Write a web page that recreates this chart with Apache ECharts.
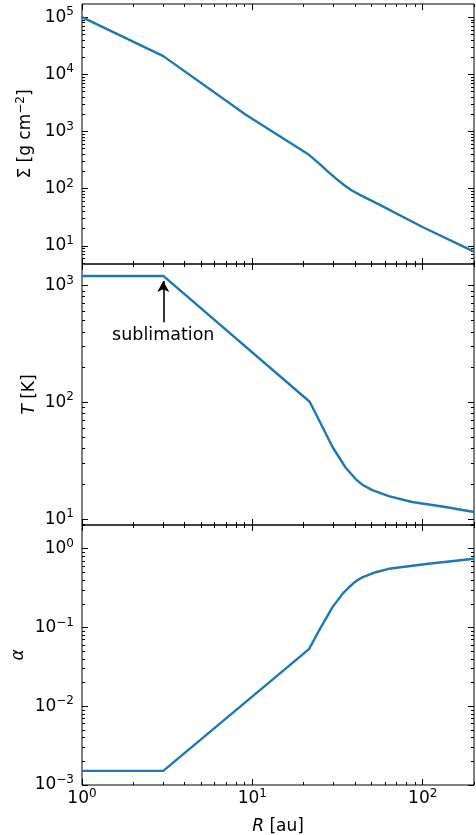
<!DOCTYPE html>
<html>
<head>
<meta charset="utf-8">
<script src="https://cdn.jsdelivr.net/npm/echarts@6/dist/echarts.min.js"></script>
<style>
	html, body { margin: 0; padding: 0; background: #fff; }
	#chart { width: 476px; height: 835px; }
</style>
</head>
<body>
<div id="chart"></div>
<script>
var rSigma = [1, 3, 9.2, 21.5, 24.6, 28.2, 30.9, 34.5, 38.6, 44.2, 55.3, 99, 200];
var sigma = [1.0e5, 2.08e4, 1950, 390, 277, 190, 151, 116, 92, 74, 53, 21.5, 7.9];

var rTemp = [1, 3, 21.7, 24.6, 29.5, 35.3, 40.4, 44.2, 50.6, 63.2, 86.6, 136, 200];
var temp = [1205, 1205, 101, 70.5, 41.6, 27.5, 22, 19.7, 17.7, 15.7, 14.0, 12.7, 11.5];

var rAlpha = [1, 3, 21.5, 24.6, 29.5, 33.8, 36.9, 40.4, 44.2, 52.9, 63.2, 108, 200];
var alpha = [1.51e-3, 1.51e-3, 0.053, 0.091, 0.18, 0.267, 0.324, 0.385, 0.434, 0.503, 0.556, 0.644, 0.745];

var xMajor = [1, 10, 100];
var sigmaMajor = [1e1, 1e2, 1e3, 1e4, 1e5];
var tempMajor = [1e1, 1e2, 1e3];
var alphaMajor = [1e-3, 1e-2, 1e-1, 1e0];

// arrow: R, tail T, head T
var sublimation = [3, 485, 1090];

(function() {
	var font = 'DejaVu Sans';
	var textRich = {
		s: {fontSize: 12, fontFamily: font, color: '#000', verticalAlign: 'top', lineHeight: 13},
		i: {fontStyle: 'italic', fontFamily: font, fontSize: 17, color: '#000'}
	};

	function pow10(v) {
		var n = Math.round(Math.log(v) / Math.LN10);
		return '10{s|' + (n < 0 ? '\u2212' + (-n) : n) + '}';
	}

	function minorTicks(lo, hi) {
		var out = [];
		for (var e = lo; e <= hi; e++) {
			for (var k = 2; k <= 9; k++) out.push(+(k * Math.pow(10, e)).toPrecision(3));
		}
		return out;
	}

	function pairs(xs, ys) {
		return xs.map(function(x, i) { return [x, ys[i]]; });
	}

	var panels = [
		{top: 4, height: 260, min: 4.8, max: 1.7e5, major: sigmaMajor, name: '\u03a3 [g cm{s|\u22122}]', gap: 45},
		{top: 264, height: 261, min: 8.9, max: 1525, major: tempMajor, name: '{i|T} [K]', gap: 41},
		{top: 525, height: 260, min: 0.001, max: 2, major: alphaMajor, name: '{i|\u03b1}', gap: 52}
	];
	var series = [pairs(rSigma, sigma), pairs(rTemp, temp), pairs(rAlpha, alpha)];

	function logAxis(g, pos, ticks, len, extra) {
		var ax = {
			type: 'log',
			logBase: 10,
			gridIndex: g,
			position: pos,
			axisLine: {show: false},
			splitLine: {show: false},
			axisTick: {inside: true, length: len, lineStyle: {color: '#000', width: 1}, customValues: ticks},
			axisLabel: {show: false}
		};
		for (var k in extra) ax[k] = extra[k];
		return ax;
	}

	function tickLabel(values, margin) {
		return {show: true, customValues: values, formatter: pow10, color: '#000',
			fontFamily: font, fontSize: 17, lineHeight: 22, margin: margin, rich: textRich};
	}

	function nameStyle() {
		return {color: '#000', fontFamily: font, fontSize: 17, lineHeight: 22, rich: textRich};
	}

	var grids = [], xAxes = [], yAxes = [], seriesList = [];
	panels.forEach(function(p, g) {
		grids.push({left: 82, right: 2, top: p.top, height: p.height, show: true,
			borderColor: '#000', borderWidth: 1, outerBoundsMode: 'none', containLabel: false});

		var xr = {min: 1, max: 200};
		var xMain = {min: 1, max: 200};
		if (g === panels.length - 1) {
			xMain.axisLabel = tickLabel(xMajor, 3);
			xMain.name = '{i|R} [au]';
			xMain.nameLocation = 'middle';
			xMain.nameGap = 31;
			xMain.nameMoveOverlap = false;
			xMain.nameTextStyle = nameStyle();
		}
		xAxes.push(logAxis(g, 'bottom', xMajor, 6, xMain));
		xAxes.push(logAxis(g, 'bottom', minorTicks(0, 2), 3, xr));
		xAxes.push(logAxis(g, 'top', xMajor, 6, xr));
		xAxes.push(logAxis(g, 'top', minorTicks(0, 2), 3, xr));

		var yr = {min: p.min, max: p.max};
		var yMain = {min: p.min, max: p.max,
			axisLabel: tickLabel(p.major, 8),
			name: p.name, nameLocation: 'middle', nameGap: p.gap, nameRotate: 90,
			nameMoveOverlap: false,
			nameTextStyle: nameStyle()
		};
		yAxes.push(logAxis(g, 'left', p.major, 6, yMain));
		yAxes.push(logAxis(g, 'left', minorTicks(-4, 5), 3, yr));
		yAxes.push(logAxis(g, 'right', p.major, 6, yr));
		yAxes.push(logAxis(g, 'right', minorTicks(-4, 5), 3, yr));

		var s = {
			type: 'line',
			xAxisIndex: 4 * g,
			yAxisIndex: 4 * g,
			data: series[g],
			showSymbol: false,
			symbol: 'none',
			lineStyle: {color: '#1f77b4', width: 2.4},
			z: 3
		};
		if (g === 1) {
			s.markLine = {
				silent: true,
				symbol: ['none', 'arrow'],
				symbolSize: [9, 11],
				lineStyle: {color: '#000', width: 1.6, type: 'solid'},
				label: {show: true, position: 'start', formatter: 'sublimation', color: '#000',
					fontFamily: font, fontSize: 17.5, distance: 4},
				data: [[{coord: [sublimation[0], sublimation[1]]}, {coord: [sublimation[0], sublimation[2]]}]]
			};
		}
		seriesList.push(s);
	});

	var myChart = echarts.init(document.getElementById('chart'));
	myChart.setOption({
		animation: false,
		backgroundColor: '#fff',
		grid: grids,
		xAxis: xAxes,
		yAxis: yAxes,
		series: seriesList
	});
}).call(this);
</script>
</body>
</html>
